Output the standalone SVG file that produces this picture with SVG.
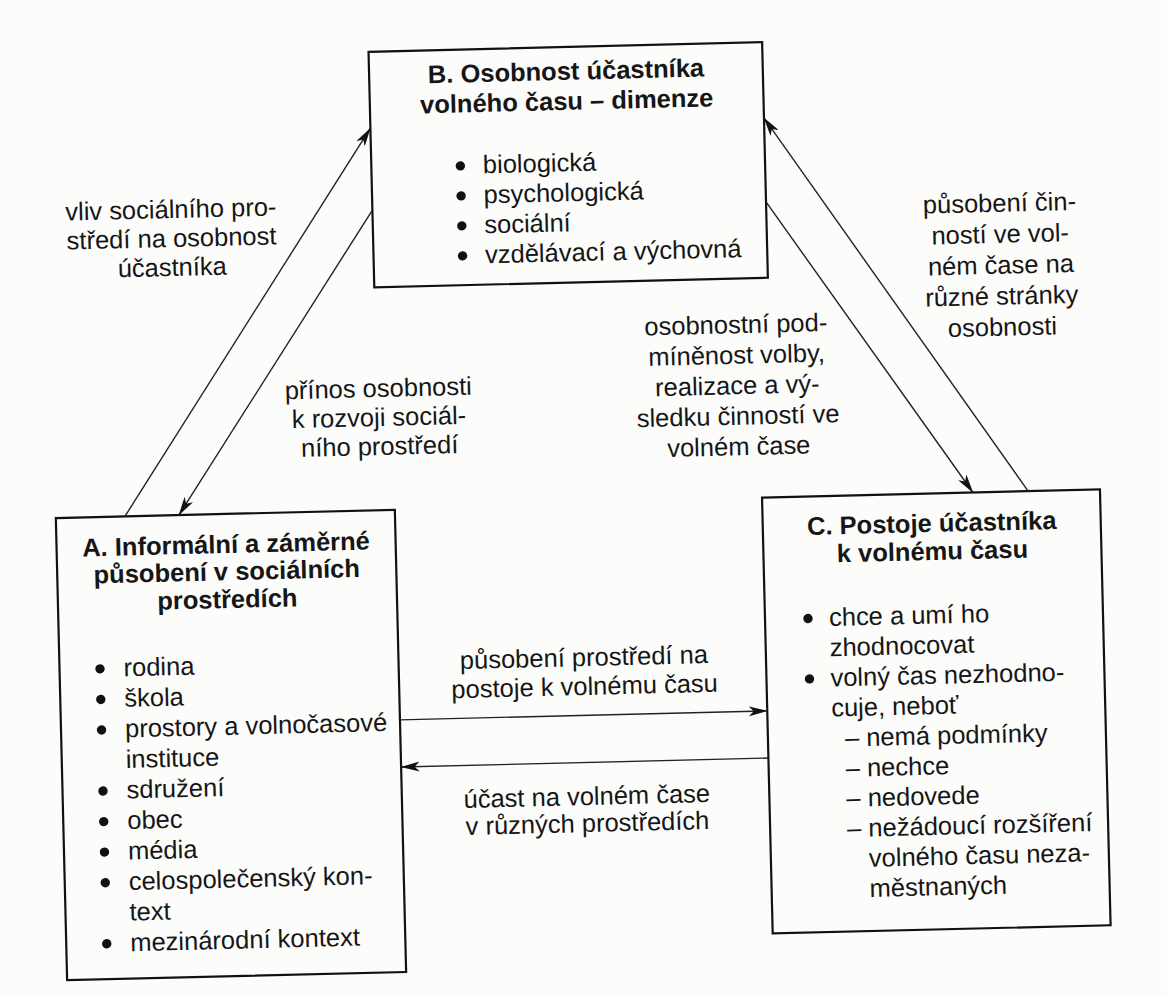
<svg xmlns="http://www.w3.org/2000/svg" width="1167" height="996" viewBox="0 0 1167 996">
<style>
.box{fill:none;stroke:#111;stroke-width:2.2}
.t{font-family:"Liberation Sans",Arial,sans-serif;font-size:25.5px;fill:#161616}
.b{font-weight:bold}
.m{text-anchor:middle}
.con{stroke:#222;stroke-width:1.4;fill:none;marker-end:url(#ah)}
.dot{fill:#111}
</style>
<defs>
<marker id="ah" viewBox="0 0 19 10" refX="18.5" refY="5" markerWidth="19" markerHeight="10" markerUnits="userSpaceOnUse" orient="auto">
<path d="M0,0 L19,5 L0,10 L5,5 z" fill="#111"/>
</marker>
</defs>
<rect width="1167" height="996" fill="#fcfcfa"/>
<g transform="rotate(-1.4 583 498)">
<g id="nodeB">
<rect class="box" x="379.5" y="46.7" width="393.7" height="235.6"/>
<text class="t b m" x="576.4" y="79.6">B. Osobnost účastníka</text>
<text class="t b m" x="576.4" y="109.6">volného času – dimenze</text>
<circle class="dot" cx="468.5" cy="163" r="4.7"/>
<text class="t" x="491" y="171">biologická</text>
<circle class="dot" cx="468.5" cy="193" r="4.7"/>
<text class="t" x="491" y="201">psychologická</text>
<circle class="dot" cx="468.5" cy="223" r="4.7"/>
<text class="t" x="491" y="231">sociální</text>
<circle class="dot" cx="468.5" cy="253" r="4.7"/>
<text class="t" x="491" y="261">vzdělávací a výchovná</text>
</g>
<g id="nodeA">
<rect class="box" x="55.5" y="505.2" width="339.1" height="462.3"/>
<text class="t b m" x="225" y="544.3">A. Informální a záměrné</text>
<text class="t b m" x="225" y="571.5">působení v sociálních</text>
<text class="t b m" x="225" y="599.3">prostředích</text>
<circle class="dot" cx="96" cy="657" r="4.7"/>
<text class="t" x="119.5" y="665">rodina</text>
<circle class="dot" cx="96" cy="687.6" r="4.7"/>
<text class="t" x="119.5" y="695.6">škola</text>
<circle class="dot" cx="96" cy="718.1" r="4.7"/>
<text class="t" x="119.5" y="726.1">prostory a volnočasové</text>
<text class="t" x="119.5" y="756.7">instituce</text>
<circle class="dot" cx="96" cy="779.2" r="4.7"/>
<text class="t" x="119.5" y="787.2">sdružení</text>
<circle class="dot" cx="96" cy="809.8" r="4.7"/>
<text class="t" x="119.5" y="817.8">obec</text>
<circle class="dot" cx="96" cy="840.3" r="4.7"/>
<text class="t" x="119.5" y="848.3">média</text>
<circle class="dot" cx="96" cy="870.9" r="4.7"/>
<text class="t" x="119.5" y="878.9">celospolečenský kon-</text>
<text class="t" x="119.5" y="909.4">text</text>
<circle class="dot" cx="96" cy="932" r="4.7"/>
<text class="t" x="119.5" y="940">mezinárodní kontext</text>
</g>
<g id="nodeC">
<rect class="box" x="762" y="502" width="338" height="436"/>
<text class="t b m" x="931" y="540.5">C. Postoje účastníka</text>
<text class="t b m" x="931" y="568.5">k volnému času</text>
<circle class="dot" cx="805" cy="624" r="4.7"/>
<text class="t" x="826" y="632">chce a umí ho</text>
<text class="t" x="826" y="662.2">zhodnocovat</text>
<circle class="dot" cx="805" cy="684.4" r="4.7"/>
<text class="t" x="826" y="692.4">volný čas nezhodno-</text>
<text class="t" x="826" y="722.6">cuje, neboť</text>
<text class="t" x="839" y="752.8">– nemá podmínky</text>
<text class="t" x="839" y="783">– nechce</text>
<text class="t" x="839" y="813.2">– nedovede</text>
<text class="t" x="839" y="843.4">– nežádoucí rozšíření</text>
<text class="t" x="860" y="873.6">volného času neza-</text>
<text class="t" x="860" y="903.8">městnaných</text>
</g>
<g id="connectors">
<line class="con" x1="124.6" y1="505.2" x2="379.5" y2="123"/>
<line class="con" x1="379.5" y1="205" x2="178.6" y2="505.2"/>
<line class="con" x1="773.2" y1="206.5" x2="973" y2="502"/>
<line class="con" x1="1028.2" y1="502" x2="773.2" y2="122.5"/>
<line class="con" x1="394.6" y1="715.3" x2="762" y2="715.3"/>
<line class="con" x1="762" y1="762.5" x2="394.6" y2="762.5"/>
</g>
<g id="labels">
<text class="t m" x="178" y="208">vliv sociálního pro-</text>
<text class="t m" x="178" y="237">středí na osobnost</text>
<text class="t m" x="178" y="266">účastníka</text>
<text class="t m" x="381" y="392">přínos osobnosti</text>
<text class="t m" x="381" y="421">k rozvoji sociál-</text>
<text class="t m" x="381" y="450">ního prostředí</text>
<text class="t m" x="1006.5" y="222">působení čin-</text>
<text class="t m" x="1006.5" y="253">ností ve vol-</text>
<text class="t m" x="1006.5" y="284">ném čase na</text>
<text class="t m" x="1006.5" y="315">různé stránky</text>
<text class="t m" x="1006.5" y="346">osobnosti</text>
<text class="t m" x="740" y="337">osobnostní pod-</text>
<text class="t m" x="740" y="367.5">míněnost volby,</text>
<text class="t m" x="740" y="398">realizace a vý-</text>
<text class="t m" x="740" y="428.5">sledku činností ve</text>
<text class="t m" x="740" y="459">volném čase</text>
<text class="t m" x="580" y="666">působení prostředí na</text>
<text class="t m" x="580" y="695">postoje k volnému času</text>
<text class="t m" x="579.5" y="805">účast na volném čase</text>
<text class="t m" x="579.5" y="832">v různých prostředích</text>
</g>
</g>
</svg>
